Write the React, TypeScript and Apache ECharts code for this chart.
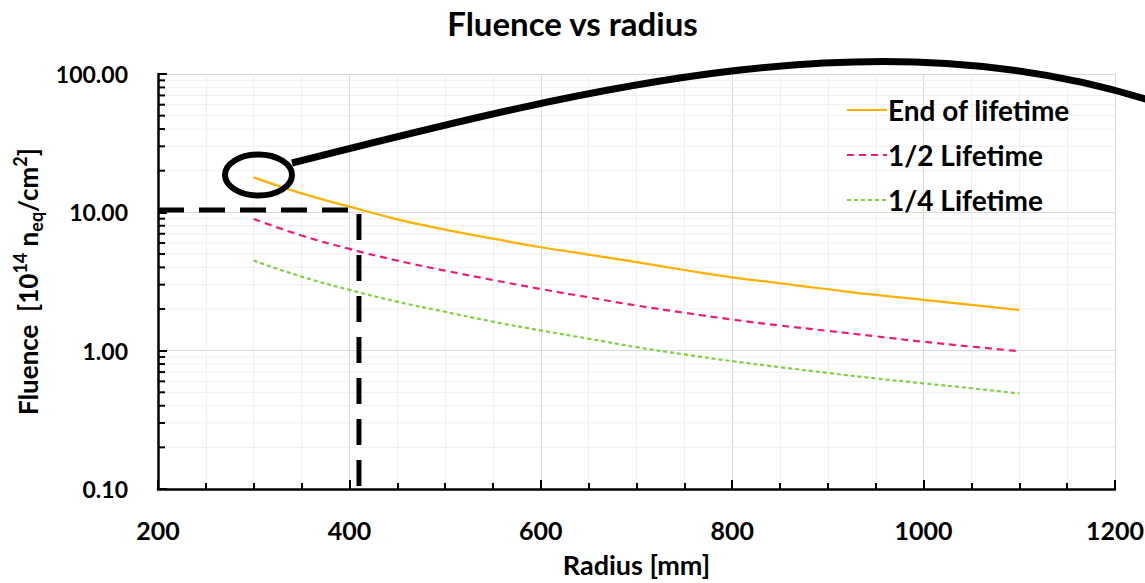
import React, { useEffect, useRef } from "react";
import * as echarts from "echarts";

const radius = [300, 350, 400, 450, 500, 550, 600, 650, 700, 750, 800, 850, 900, 950, 1000, 1050, 1100];
const endOfLifetime = [17.9, 13.7, 11.0, 8.9, 7.5, 6.45, 5.59, 4.95, 4.36, 3.83, 3.39, 3.07, 2.78, 2.53, 2.33, 2.14, 1.97];
const halfLifetime = [8.96, 6.8, 5.44, 4.48, 3.79, 3.24, 2.79, 2.43, 2.12, 1.88, 1.68, 1.52, 1.39, 1.27, 1.16, 1.07, 0.99];
const quarterLifetime = [4.48, 3.43, 2.75, 2.26, 1.91, 1.62, 1.40, 1.22, 1.06, 0.94, 0.84, 0.76, 0.69, 0.63, 0.58, 0.535, 0.49];
const seriesNames = ["End of lifetime", "1/2 Lifetime", "1/4 Lifetime"];
const guideX = [200, 410, 410];
const guideY = [10.4, 10.4, 0.1];
const yMinorTicks = [0.2, 0.3, 0.4, 0.5, 0.6, 0.7, 0.8, 0.9, 2, 3, 4, 5, 6, 7, 8, 9, 20, 30, 40, 50, 60, 70, 80, 90];

const FONT = "Lato";

export default function App() {
  const ref = useRef<HTMLDivElement>(null);
  useEffect(() => {
    if (!ref.current) return;
    const chart = echarts.init(ref.current, null, { renderer: "svg" });
    const zip = (ys: number[]) => radius.map((x, i) => [x, ys[i]]);
    chart.setOption({
      animation: false,
      backgroundColor: "#ffffff",
      title: {
        text: "Fluence vs radius",
        left: "center",
        top: 1,
        textStyle: { fontFamily: FONT, fontWeight: "bold", fontSize: 33, color: "#000" },
      },
      legend: {
        data: seriesNames,
        orient: "vertical",
        left: 841,
        top: 91,
        itemWidth: 40,
        itemHeight: 14,
        itemGap: 17,
        itemStyle: { opacity: 0 },
        textStyle: { fontFamily: FONT, fontWeight: "bold", fontSize: 28, color: "#000", padding: [0, 0, 0, -4] },
      },
      grid: { left: 158, right: 30, top: 74, bottom: 94, containLabel: false, outerBoundsMode: "none" },
      xAxis: {
        type: "value",
        min: 200,
        max: 1200,
        interval: 200,
        name: "Radius [mm]",
        nameLocation: "middle",
        nameGap: 62,
        nameTextStyle: { fontFamily: FONT, fontWeight: "bold", fontSize: 27, color: "#000" },
        axisLine: { show: true, lineStyle: { color: "#000", width: 2.5 } },
        axisTick: { show: true, inside: true, length: 9, lineStyle: { color: "#000", width: 2 } },
        minorTick: { show: true, splitNumber: 4, length: 6, lineStyle: { color: "#000", width: 2 } },
        splitLine: { show: true, lineStyle: { color: "#d9d9d9", width: 1 } },
        minorSplitLine: { show: true, lineStyle: { color: "#efefef", width: 1 } },
        axisLabel: {
          fontFamily: FONT,
          fontWeight: "bold",
          fontSize: 25,
          color: "#000",
          margin: 28,
          formatter: (v: number) => String(v),
        },
      },
      yAxis: {
        type: "log",
        logBase: 10,
        min: 0.1,
        max: 100,
        name: "{b|Fluence  [10}{sup|14}{b| n}{sub|eq}{b|/cm}{sup|2}{b|]}",
        nameLocation: "middle",
        nameGap: 104,
        nameTextStyle: {
          fontFamily: FONT,
          fontWeight: "bold",
          fontSize: 26,
          color: "#000",
          rich: {
            b: { fontFamily: FONT, fontWeight: "bold", fontSize: 26, color: "#000", lineHeight: 34 },
            sup: { fontFamily: FONT, fontWeight: "bold", fontSize: 18, color: "#000", verticalAlign: "top" },
            sub: { fontFamily: FONT, fontWeight: "bold", fontSize: 18, color: "#000", verticalAlign: "bottom" },
          },
        },
        axisLine: { show: true, lineStyle: { color: "#000", width: 2.5 } },
        axisTick: { show: true, inside: true, length: 9, lineStyle: { color: "#000", width: 2 } },
        splitLine: { show: true, lineStyle: { color: "#d9d9d9", width: 1 } },
        axisLabel: {
          fontFamily: FONT,
          fontWeight: "bold",
          fontSize: 23,
          color: "#000",
          margin: 30,
          formatter: (v: number) => v.toFixed(2),
        },
      },
      series: [
        {
          name: "minor",
          type: "custom",
          silent: true,
          z: 1,
          data: yMinorTicks.map((v) => [200, v]),
          renderItem: (params: any, api: any) => {
            const v = api.value(1);
            const p = api.coord([200, v]);
            const q = api.coord([1200, v]);
            return {
              type: "group",
              children: [
                { type: "line", shape: { x1: p[0] + 2, y1: p[1], x2: q[0], y2: q[1] }, style: { stroke: "#efefef", lineWidth: 1 } },
                { type: "line", shape: { x1: p[0], y1: p[1], x2: p[0] + 7, y2: p[1] }, style: { stroke: "#000", lineWidth: 2 } },
              ],
            };
          },
        },
        {
          name: seriesNames[0],
          type: "line",
          data: zip(endOfLifetime),
          smooth: true,
          symbol: "none",
          z: 3,
          color: "#FFB000",
          lineStyle: { color: "#FFB000", width: 2.2, type: "solid" },
        },
        {
          name: seriesNames[1],
          type: "line",
          data: zip(halfLifetime),
          smooth: true,
          symbol: "none",
          z: 3,
          color: "#EE1C7A",
          lineStyle: { color: "#EE1C7A", width: 2.2, type: [7, 5] },
        },
        {
          name: seriesNames[2],
          type: "line",
          data: zip(quarterLifetime),
          smooth: true,
          symbol: "none",
          z: 3,
          color: "#80D040",
          lineStyle: { color: "#80D040", width: 2.2, type: [4, 3] },
        },
        {
          name: "guide",
          type: "line",
          data: guideX.map((x, i) => [x, guideY[i]]),
          symbol: "none",
          silent: true,
          z: 4,
          lineStyle: { color: "#000", width: 5, type: [26, 15], cap: "butt" },
        },
      ],
      graphic: [
        {
          type: "ellipse",
          z: 100,
          shape: { cx: 258.5, cy: 175, rx: 33.5, ry: 20.5 },
          style: { fill: "none", stroke: "#000", lineWidth: 6 },
        },
        {
          type: "bezierCurve",
          z: 100,
          shape: { x1: 292, y1: 163, cpx1: 600, cpy1: 85, cpx2: 880, cpy2: 15, x2: 1152, y2: 101 },
          style: { fill: "none", stroke: "#000", lineWidth: 7 },
        },
      ],
    });
    return () => chart.dispose();
  }, []);
  return (
    <div
      ref={ref}
      style={{ position: "fixed", left: 0, top: 0, width: 1145, height: 583, background: "#fff" }}
    />
  );
}
